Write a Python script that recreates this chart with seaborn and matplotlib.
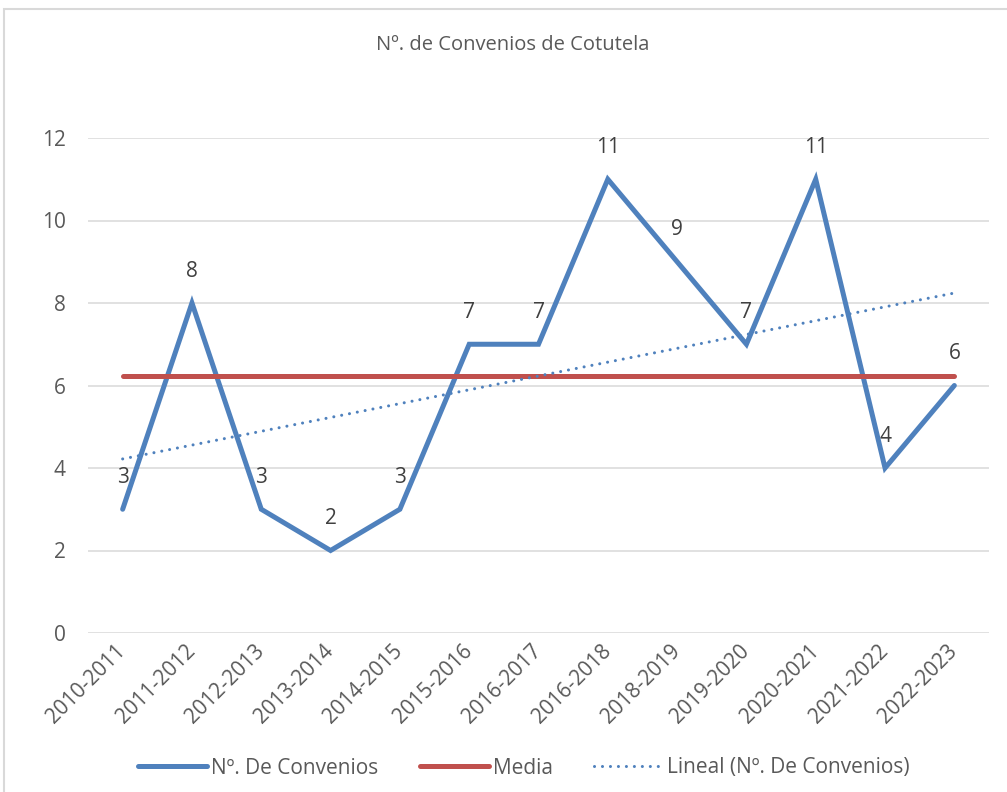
import numpy as np
import pandas as pd
import matplotlib
matplotlib.use("Agg")
import matplotlib.pyplot as plt
import seaborn as sns
from matplotlib.patches import Rectangle

# Datos
cursos = ["2010-2011", "2011-2012", "2012-2013", "2013-2014", "2014-2015",
          "2015-2016", "2016-2017", "2016-2018", "2018-2019", "2019-2020",
          "2020-2021", "2021-2022", "2022-2023"]
convenios = [3, 8, 3, 2, 3, 7, 7, 11, 9, 7, 11, 4, 6]

titulo = "Nº. de Convenios de Cotutela"
lbl_serie = "Nº. De Convenios"
lbl_media = "Media"
lbl_lineal = "Lineal (Nº. De Convenios)"

AZUL = "#4F81BD"
ROJO = "#C0504D"
GRIS_TXT = "#595959"
GRIS_GRID = "#D9D9D9"

sns.set_theme(style="white")
plt.rcParams['font.family'] = ['Open Sans', 'DejaVu Sans']

pos = np.arange(len(cursos))
df = pd.DataFrame({'pos': pos, 'curso': cursos, 'valor': convenios})
df['media'] = df['valor'].mean()
pend, orig = np.polyfit(df['pos'], df['valor'], 1)
df['lineal'] = orig + pend * df['pos']

fig = plt.figure(figsize=(10.07, 7.92), dpi=100)
ax = fig.add_axes([88/1007, 1 - 633/792, (989 - 88)/1007, (633 - 138)/792])

sns.lineplot(data=df, x='pos', y='valor', ax=ax, color=AZUL, linewidth=3.6,
             label=lbl_serie, solid_joinstyle='miter', solid_capstyle='round')
sns.lineplot(data=df, x='pos', y='media', ax=ax, color=ROJO, linewidth=3.6,
             label=lbl_media, solid_capstyle='round')
sns.lineplot(data=df, x='pos', y='lineal', ax=ax, color=AZUL, linewidth=2.2,
             linestyle=(0, (0.01, 2.6)), label=lbl_lineal,
             dash_capstyle='round')

for p, v in zip(pos, convenios):
    ax.annotate(str(v), (p, v), xytext=(0, 23), textcoords='offset points',
                ha='center', va='center', fontsize=15, color="#404040",
                clip_on=False)

ax.set_xlim(-0.5, len(cursos) - 0.5)
ax.set_ylim(0, 12)
ax.set_yticks(range(0, 13, 2))
ax.set_xticks(pos)
ax.set_xticklabels(cursos, rotation=45, ha='right', rotation_mode='anchor',
                   va='center')
ax.tick_params(axis='both', length=0, colors=GRIS_TXT, labelsize=15)
ax.tick_params(axis='y', pad=16)
ax.tick_params(axis='x', pad=11)
ax.set_xlabel('')
ax.set_ylabel('')
ax.grid(axis='y', color=GRIS_GRID, linewidth=1.1)
ax.set_axisbelow(True)
for s in ax.spines.values():
    s.set_visible(False)

leg = ax.legend(loc='center', bbox_to_anchor=(524/1007, 1 - 768/792),
                bbox_transform=fig.transFigure, ncol=3, frameon=False,
                fontsize=15, handlelength=3.3, handletextpad=0.2,
                columnspacing=2.0, labelcolor=GRIS_TXT)

fig.text(513/1007, 1 - 45/792, titulo, ha='center', va='center',
         fontsize=14.5, color=GRIS_TXT)

fig.patches.append(Rectangle((4/1007, -0.1), 1.2, 1.1 - 9/792,
                             transform=fig.transFigure, fill=False,
                             edgecolor=GRIS_GRID, linewidth=1.5))

fig.savefig("out.png", dpi=100)
